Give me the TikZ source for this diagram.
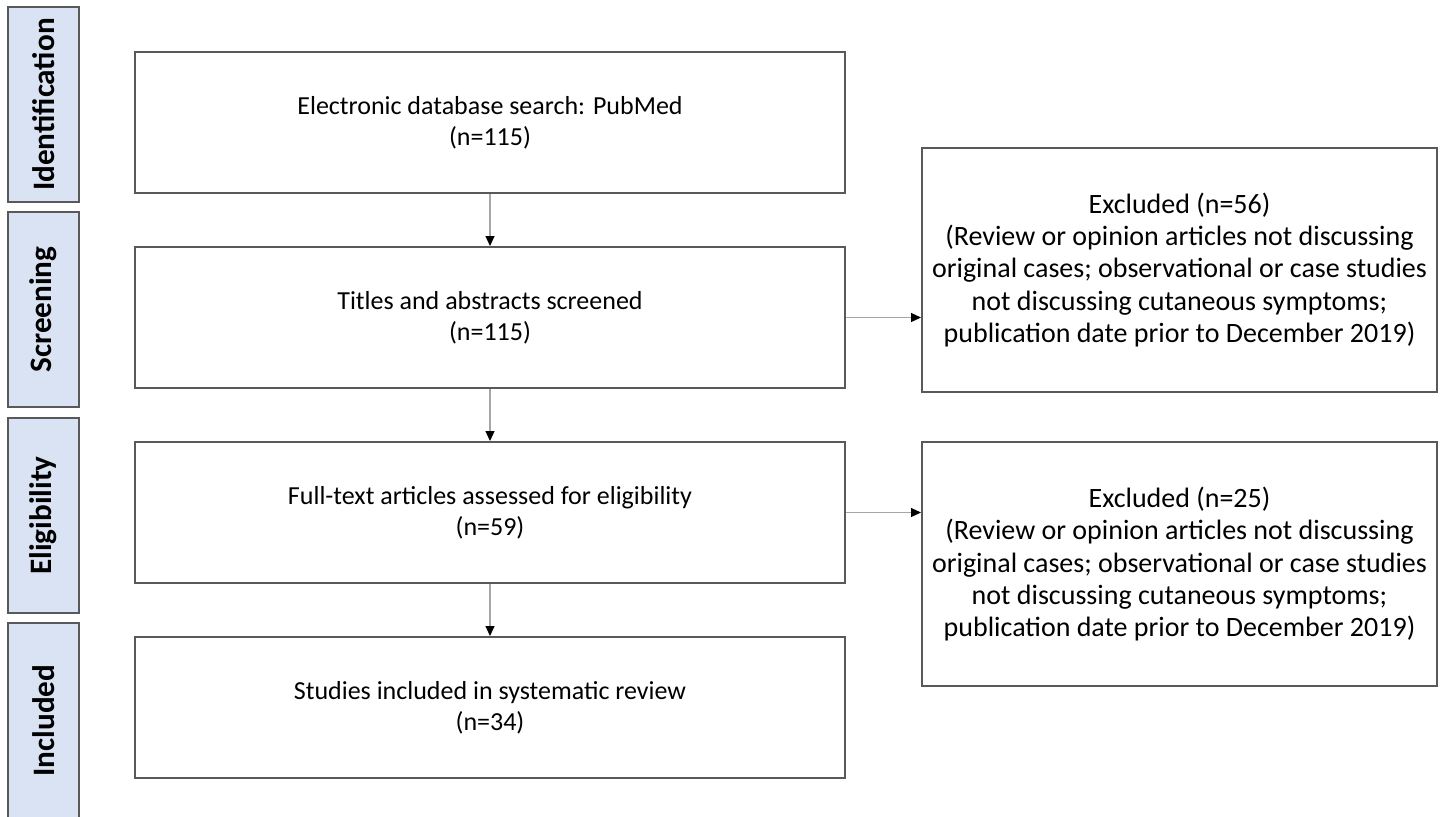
\documentclass[tikz,border=0pt]{standalone}
\usepackage{fontspec}
\setmainfont{Carlito}
\usetikzlibrary{arrows.meta}
\definecolor{boxgray}{HTML}{595959}
\definecolor{phasefill}{HTML}{DAE3F3}
\definecolor{arrgray}{HTML}{A6A6A6}
\begin{document}
\begin{tikzpicture}[x=0.5pt,y=-0.5pt,
  box/.style={draw=boxgray, line width=1pt, align=center, font=\fontsize{13}{15.5}\selectfont, inner sep=0pt},
  rbox/.style={box, font=\fontsize{14}{16.1}\selectfont, minimum width=257.5pt, minimum height=122pt},
  mbox/.style={box, minimum width=355pt, minimum height=70.5pt},
  phase/.style={draw=boxgray, fill=phasefill, line width=1pt, font=\bfseries\fontsize{15.6}{17}\selectfont, rotate=90, minimum width=97.5pt, minimum height=35.5pt, inner sep=0pt},
  arr/.style={draw=arrgray, line width=0.6pt, -{Triangle[length=5pt,width=4.5pt,color=black]}}]
\useasboundingbox (0,0) rectangle (1445,816);
\node[phase] (p1) at (43.5,104.5) {Identification};
\node[phase] (p2) at (43.5,309.5) {Screening};
\node[phase] (p3) at (43.5,515.5) {Eligibility};
\node[phase] (p4) at (43.5,720.5) {Included};
\node[mbox] (b1) at (490,122.5) {Electronic database search: PubMed\\(n=115)};
\node[mbox] (b2) at (490,317.5) {Titles and abstracts screened\\(n=115)};
\node[mbox] (b3) at (490,512.5) {Full-text articles assessed for eligibility\\(n=59)};
\node[mbox] (b4) at (490,707.5) {Studies included in systematic review\\(n=34)};
\node[rbox] (r1) at (1179.5,270) {Excluded (n=56)\\(Review or opinion articles not discussing\\original cases; observational or case studies\\not discussing cutaneous symptoms;\\publication date prior to December 2019)};
\node[rbox] (r2) at (1179.5,564) {Excluded (n=25)\\(Review or opinion articles not discussing\\original cases; observational or case studies\\not discussing cutaneous symptoms;\\publication date prior to December 2019)};
\draw[arr] (b1.south) -- (b2.north);
\draw[arr] (b2.south) -- (b3.north);
\draw[arr] (b3.south) -- (b4.north);
\draw[arr] (b2.east) -- (b2.east -| r1.west);
\draw[arr] (b3.east) -- (b3.east -| r2.west);
\end{tikzpicture}
\end{document}
